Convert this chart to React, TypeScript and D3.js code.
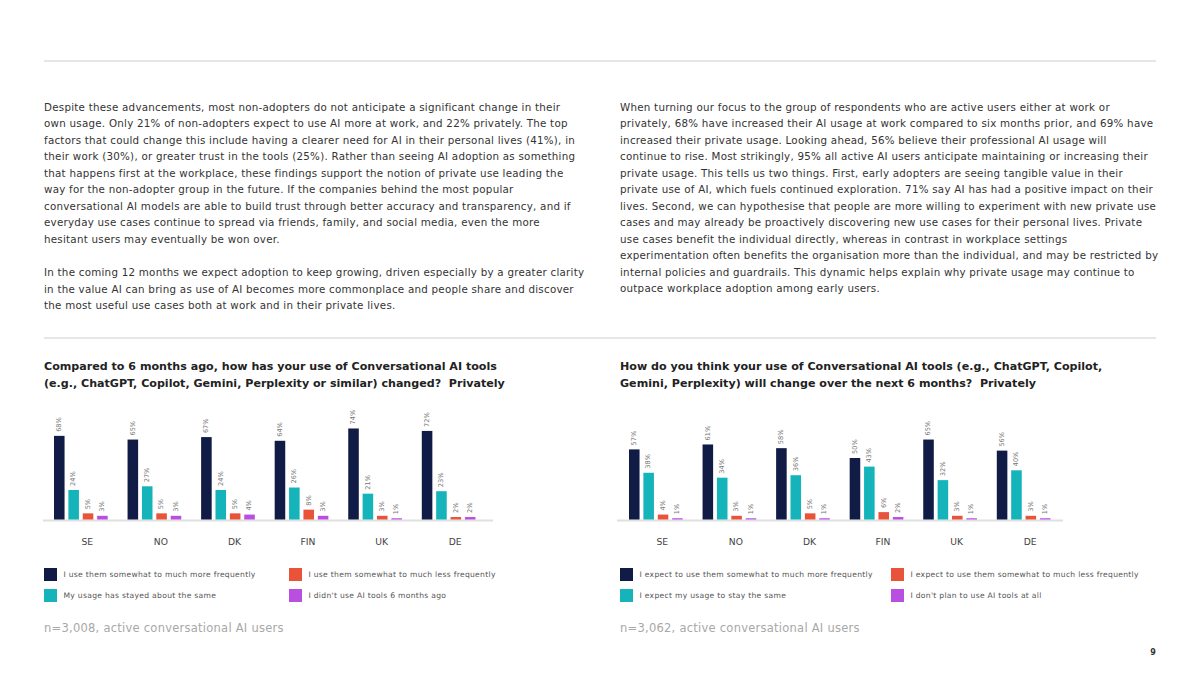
import React, { useEffect } from 'react';
import * as d3 from 'd3';

// ---- data ----
const countries = ['SE', 'NO', 'DK', 'FIN', 'UK', 'DE'];

// Compared to 6 months ago (privately)
const pastMore = [68, 65, 67, 64, 74, 72];
const pastSame = [24, 27, 24, 26, 21, 23];
const pastLess = [5, 5, 5, 8, 3, 2];
const pastNone = [3, 3, 4, 3, 1, 2];

// Next 6 months (privately)
const nextMore = [57, 61, 58, 50, 65, 56];
const nextSame = [38, 34, 36, 43, 32, 40];
const nextLess = [4, 3, 5, 6, 3, 3];
const nextNone = [1, 1, 1, 2, 1, 1];

const pastLegend = [
  'I use them somewhat to much more frequently',
  'My usage has stayed about the same',
  'I use them somewhat to much less frequently',
  "I didn't use AI tools 6 months ago",
];
const nextLegend = [
  'I expect to use them somewhat to much more frequently',
  'I expect my usage to stay the same',
  'I expect to use them somewhat to much less frequently',
  "I don't plan to use AI tools at all",
];

const seriesColors = ['#101c45', '#14b4ba', '#e8533a', '#b84fe0'];

const leftText1 = [
  'Despite these advancements, most non-adopters do not anticipate a significant change in their',
  'own usage. Only 21% of non-adopters expect to use AI more at work, and 22% privately. The top',
  'factors that could change this include having a clearer need for AI in their personal lives (41%), in',
  'their work (30%), or greater trust in the tools (25%). Rather than seeing AI adoption as something',
  'that happens first at the workplace, these findings support the notion of private use leading the',
  'way for the non-adopter group in the future. If the companies behind the most popular',
  'conversational AI models are able to build trust through better accuracy and transparency, and if',
  'everyday use cases continue to spread via friends, family, and social media, even the more',
  'hesitant users may eventually be won over.',
];
const leftText2 = [
  'In the coming 12 months we expect adoption to keep growing, driven especially by a greater clarity',
  'in the value AI can bring as use of AI becomes more commonplace and people share and discover',
  'the most useful use cases both at work and in their private lives.',
];
const rightText = [
  'When turning our focus to the group of respondents who are active users either at work or',
  'privately, 68% have increased their AI usage at work compared to six months prior, and 69% have',
  'increased their private usage. Looking ahead, 56% believe their professional AI usage will',
  'continue to rise. Most strikingly, 95% all active AI users anticipate maintaining or increasing their',
  'private usage. This tells us two things. First, early adopters are seeing tangible value in their',
  'private use of AI, which fuels continued exploration. 71% say AI has had a positive impact on their',
  'lives. Second, we can hypothesise that people are more willing to experiment with new private use',
  'cases and may already be proactively discovering new use cases for their personal lives. Private',
  'use cases benefit the individual directly, whereas in contrast in workplace settings',
  'experimentation often benefits the organisation more than the individual, and may be restricted by',
  'internal policies and guardrails. This dynamic helps explain why private usage may continue to',
  'outpace workplace adoption among early users.',
];

const FONT = "'DejaVu Sans', sans-serif";

interface ChartProps {
  x: number;
  title: string[];
  series: number[][];
  legend: string[];
  note: string;
  barStart: number;
  lineStart: number;
  lineEnd: number;
  legendCol2: number;
}

const Chart: React.FC<ChartProps> = ({ x, title, series, legend, note, barStart, lineStart, lineEnd, legendCol2 }) => {
  const baseY = 519.5;
  const y = d3.scaleLinear().domain([0, 100]).range([baseY, baseY - 123]);
  const outer = d3.scaleBand<string>().domain(countries).range([barStart, barStart + 421.5]).paddingInner(0.27).paddingOuter(0);
  const inner = d3.scaleBand<number>().domain(d3.range(4)).range([0, outer.bandwidth()]).paddingInner(0.266).paddingOuter(0);

  return (
    <g>
      {title.map((t, i) => (
        <text key={i} x={x} y={369.5 + i * 17.5} fontFamily={FONT} fontWeight={700} fontSize={11.1} fill="#222" style={{ whiteSpace: 'pre' }}>{t}</text>
      ))}
      <line x1={lineStart} x2={lineEnd} y1={baseY + 1} y2={baseY + 1} stroke="#e0e0e0" strokeWidth={2} />
      {countries.map((c, ci) => (
        <g key={c} transform={`translate(${outer(c)},0)`}>
          {series.map((s, si) => {
            const bx = inner(si)!;
            const v = s[ci];
            return (
              <g key={si}>
                <rect x={bx} y={y(v)} width={inner.bandwidth()} height={baseY - y(v)} fill={seriesColors[si]} />
                <text
                  transform={`translate(${bx + inner.bandwidth() / 2},${y(v) - 4}) rotate(-90)`}
                  fontFamily={FONT} fontSize={6.6} fill="#777" dominantBaseline="middle"
                >{v}%</text>
              </g>
            );
          })}
          <text x={outer.bandwidth() / 2 + 6.5} y={544.5} textAnchor="middle" fontFamily={FONT} fontSize={9.2} fill="#444">{c}</text>
        </g>
      ))}
      {legend.map((l, i) => {
        const col = i < 2 ? 0 : 1;
        const row = i % 2;
        const lx = col === 0 ? x : legendCol2;
        const ly = 568 + row * 21;
        return (
          <g key={i}>
            <rect x={lx} y={ly} width={13} height={13} fill={seriesColors[i]} />
            <text x={lx + 19.5} y={ly + 9.3} fontFamily={FONT} fontSize={7.6} letterSpacing={0.3} fill="#555">{l}</text>
          </g>
        );
      })}
      <text x={x} y={632} fontFamily={FONT} fontSize={11.5} letterSpacing={0.25} fill="#a8a8a8">{note}</text>
    </g>
  );
};

const Paragraph: React.FC<{ x: number; y: number; lines: string[] }> = ({ x, y, lines }) => (
  <g>
    {lines.map((l, i) => (
      <text key={i} x={x} y={y + i * 16.5} fontFamily={FONT} fontSize={10.3} letterSpacing={0.25} fill="#333">{l}</text>
    ))}
  </g>
);

const App: React.FC = () => {
  useEffect(() => {
    document.body.style.margin = '0';
  }, []);

  return (
    <svg width={1200} height={675} style={{ display: 'block', background: '#fff' }}>
      <line x1={44} x2={1156} y1={61} y2={61} stroke="#dedede" strokeWidth={1.5} />
      <Paragraph x={44} y={110.5} lines={leftText1} />
      <Paragraph x={44} y={276} lines={leftText2} />
      <Paragraph x={620} y={110.5} lines={rightText} />
      <line x1={44} x2={1156} y1={338} y2={338} stroke="#dedede" strokeWidth={1.5} />
      <Chart
        x={44}
        title={['Compared to 6 months ago, how has your use of Conversational AI tools', '(e.g., ChatGPT, Copilot, Gemini, Perplexity or similar) changed?  Privately']}
        series={[pastMore, pastSame, pastLess, pastNone]}
        legend={pastLegend}
        note="n=3,008, active conversational AI users"
        barStart={54}
        lineStart={43}
        lineEnd={493}
        legendCol2={289}
      />
      <Chart
        x={620}
        title={['How do you think your use of Conversational AI tools (e.g., ChatGPT, Copilot,', 'Gemini, Perplexity) will change over the next 6 months?  Privately']}
        series={[nextMore, nextSame, nextLess, nextNone]}
        legend={nextLegend}
        note="n=3,062, active conversational AI users"
        barStart={629}
        lineStart={617}
        lineEnd={1063}
        legendCol2={891}
      />
      <text x={1153} y={655} textAnchor="middle" fontFamily={FONT} fontWeight={700} fontSize={8} fill="#333">9</text>
    </svg>
  );
};

export default App;
